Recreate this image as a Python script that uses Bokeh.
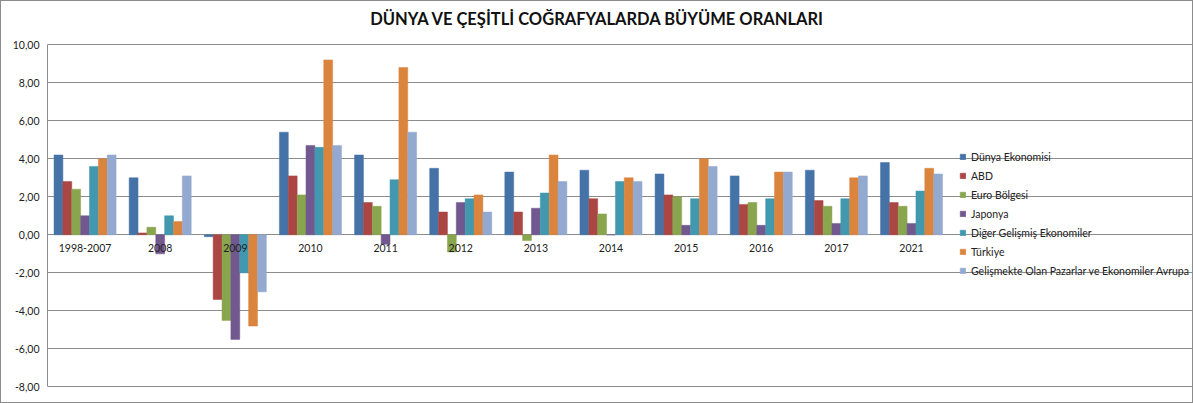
from bokeh.plotting import figure
from bokeh.models import (ColumnDataSource, Range1d, FixedTicker, Legend, LegendItem, Label)
from bokeh.core.properties import value
from bokeh.embed import file_html
from bokeh.resources import INLINE

categories = ["1998-2007", "2008", "2009", "2010", "2011", "2012", "2013",
              "2014", "2015", "2016", "2017", "2021"]
series_names = ["Dünya Ekonomisi", "ABD", "Euro Bölgesi", "Japonya",
                "Diğer Gelişmiş Ekonomiler", "Türkiye",
                "Gelişmekte Olan Pazarlar ve Ekonomiler Avrupa"]
dunya      = [4.2, 3.0, -0.1, 5.4, 4.2, 3.5, 3.3, 3.4, 3.2, 3.1, 3.4, 3.8]
abd        = [2.8, 0.1, -3.4, 3.1, 1.7, 1.2, 1.2, 1.9, 2.1, 1.6, 1.8, 1.7]
euro       = [2.4, 0.4, -4.5, 2.1, 1.5, -0.9, -0.3, 1.1, 2.0, 1.7, 1.5, 1.5]
japonya    = [1.0, -1.0, -5.5, 4.7, -0.5, 1.7, 1.4, 0.0, 0.5, 0.5, 0.6, 0.6]
diger      = [3.6, 1.0, -2.0, 4.6, 2.9, 1.9, 2.2, 2.8, 1.9, 1.9, 1.9, 2.3]
turkiye    = [4.0, 0.7, -4.8, 9.2, 8.8, 2.1, 4.2, 3.0, 4.0, 3.3, 3.0, 3.5]
gelismekte = [4.2, 3.1, -3.0, 4.7, 5.4, 1.2, 2.8, 2.8, 3.6, 3.3, 3.1, 3.2]
y_ticks = [-8, -6, -4, -2, 0, 2, 4, 6, 8, 10]
title_text = "DÜNYA VE ÇEŞİTLİ COĞRAFYALARDA BÜYÜME ORANLARI"

colors = ["#4572A7", "#AA4643", "#89A54E", "#71588F", "#4198AF", "#DB843D", "#93A9CF"]
series = [dunya, abd, euro, japonya, diger, turkiye, gelismekte]
keys = ["s%d" % i for i in range(7)]

n = len(categories)
centers = [i + 0.5 for i in range(n)]
bw = 0.118

data = {"cat": categories, "xc": centers}
for j, (k, s) in enumerate(zip(keys, series)):
    data[k] = s
    data["x" + k] = [c + (j - 3) * bw for c in centers]
src = ColumnDataSource(data)

FONT = "Lato"
ppu_y = 18.92           # pixels per y unit
ppu_x = 75.0            # pixels per category
top_pad, bot_pad = 43, 17.5
right_pad = 245

p = figure(width=1193, height=403,
           x_range=Range1d(0, n + right_pad / ppu_x),
           y_range=Range1d(-8 - bot_pad / ppu_y, 10 + top_pad / ppu_y),
           output_backend="svg", toolbar_location=None,
           min_border_left=46, min_border_right=0, min_border_top=0, min_border_bottom=0)
p.outline_line_color = None
p.background_fill_color = "white"
p.border_fill_color = "white"
p.styles = {"border": "1px solid #8c8c8c", "box-sizing": "border-box"}

items = []
for j, (k, c, name) in enumerate(zip(keys, colors, series_names)):
    r = p.vbar(x="x" + k, top=k, bottom=0, width=bw,
               source=src, fill_color=c, line_color=c, line_width=0.5)
    items.append(LegendItem(label=name, renderers=[r]))

# category labels just below zero line
p.text(x="xc", y=value(-0.7), text="cat", source=src, text_align="center",
       text_baseline="middle", text_font=value(FONT), text_font_size="10.5px",
       text_color="#222222")

p.xaxis.visible = False
p.xgrid.grid_line_color = None
p.ygrid.ticker = FixedTicker(ticks=y_ticks)
p.ygrid.grid_line_color = "#8c8c8c"
p.ygrid.grid_line_width = 1
p.ygrid.bounds = (0, n)

ya = p.yaxis[0]
ya.ticker = FixedTicker(ticks=y_ticks)
ya.bounds = (min(y_ticks), max(y_ticks))
ya.major_label_overrides = {t: ("%.2f" % t).replace(".", ",") for t in y_ticks}
ya.major_label_text_font = FONT
ya.major_label_text_font_size = "10.5px"
ya.major_label_text_color = "#222222"
ya.axis_line_color = "#8c8c8c"
ya.major_tick_out = 0
ya.major_tick_in = 0
ya.minor_tick_out = 0
ya.minor_tick_in = 0
ya.major_label_standoff = 8

legend = Legend(items=items, location=(912, 127), margin=0, padding=8,
                glyph_width=7, glyph_height=7, label_standoff=5, label_height=13,
                spacing=6, label_text_font=FONT, label_text_font_size="10.5px",
                label_text_color="#222222", border_line_color=None,
                background_fill_alpha=0)
p.add_layout(legend)

title = Label(x=(595 - 46) / ppu_x, y=10 + (top_pad - 17) / ppu_y, text=title_text,
              text_align="center", text_baseline="middle", text_font=FONT,
              text_font_size="16.5px", text_font_style="bold", text_color="#111111")
p.add_layout(title)

open("out.html", "w").write(file_html(p, INLINE))
